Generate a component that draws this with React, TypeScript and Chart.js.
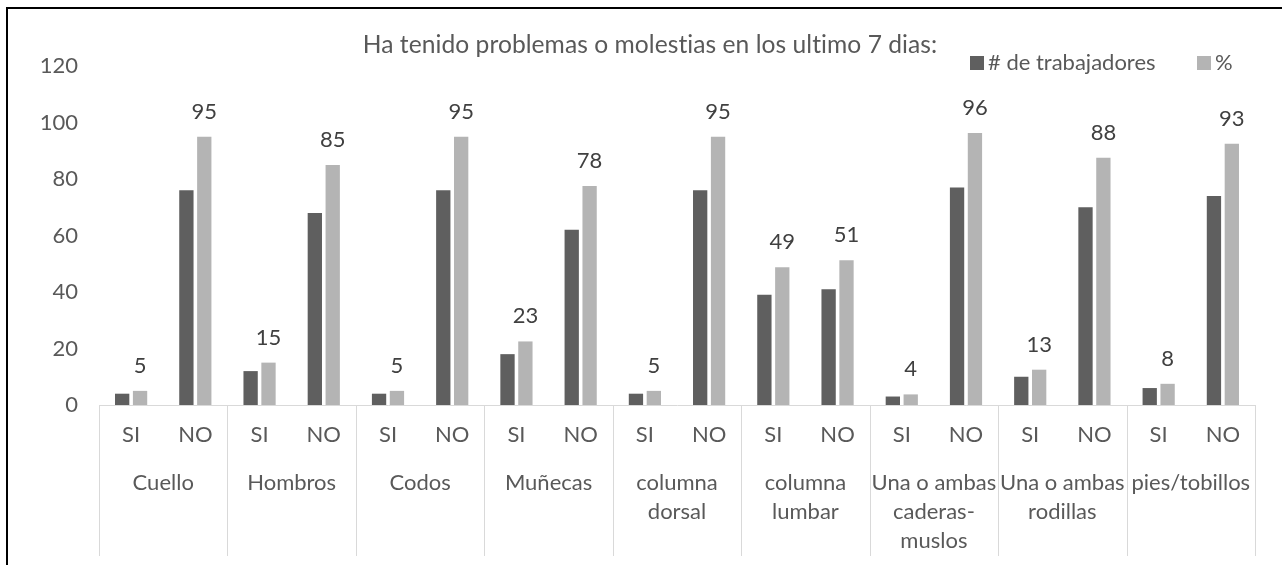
import React, { useEffect, useRef } from "react";
import { Chart, registerables } from "chart.js";

Chart.register(...registerables);

// ---- data ----
const regionLines: string[][] = [
  ["Cuello"],
  ["Hombros"],
  ["Codos"],
  ["Muñecas"],
  ["columna", "dorsal"],
  ["columna", "lumbar"],
  ["Una o ambas", "caderas-", "muslos"],
  ["Una o ambas", "rodillas"],
  ["pies/tobillos"],
];
const answers = ["SI", "NO"];
const categoryLabels: string[] = regionLines.flatMap(() => answers);

const workers = [4, 76, 12, 68, 4, 76, 18, 62, 4, 76, 39, 41, 3, 77, 10, 70, 6, 74];
const percent = [5, 95, 15, 85, 5, 95, 22.5, 77.5, 5, 95, 48.75, 51.25, 3.75, 96.25, 12.5, 87.5, 7.5, 92.5];

const yMin = 0;
const yMax = 120;
const yStep = 20;

const titleText = "Ha tenido problemas o molestias en los ultimo 7 dias:";
const seriesNames = ["# de trabajadores", "%"];
const seriesColors = ["#5f5f5f", "#b4b4b4"];

const FONT = "Lato";
const TEXT = "#595959";

const overlayPlugin = {
  id: "overlay",
  afterDraw(chart: any) {
    const ctx: any = chart.ctx;
    const x = chart.scales.x;
    const area = chart.chartArea;
    const half = (x.getPixelForValue(1) - x.getPixelForValue(0)) / 2;
    ctx.save();

    // group separators
    ctx.strokeStyle = "#d9d9d9";
    ctx.lineWidth = 1;
    const n = regionLines.length;
    for (let k = 0; k <= n; k++) {
      const px = k < n ? x.getPixelForValue(2 * k) - half : x.getPixelForValue(2 * k - 1) + half;
      const xx = Math.round(px) + 0.5;
      ctx.beginPath();
      ctx.moveTo(xx, area.bottom);
      ctx.lineTo(xx, area.bottom + 151);
      ctx.stroke();
    }

    // group labels
    ctx.fillStyle = TEXT;
    ctx.font = `22px ${FONT}`;
    ctx.textAlign = "center";
    ctx.textBaseline = "middle";
    regionLines.forEach((lines, k) => {
      const cx = (x.getPixelForValue(2 * k) + x.getPixelForValue(2 * k + 1)) / 2;
      lines.forEach((t, j) => ctx.fillText(t, cx, area.bottom + 78 + j * 29));
    });

    // data labels for % series
    const meta = chart.getDatasetMeta(1);
    ctx.fillStyle = "#404040";
    ctx.textBaseline = "alphabetic";
    meta.data.forEach((bar: any, i: number) => {
      ctx.fillText(String(Math.round(percent[i])), bar.x, bar.y - 18);
    });

    // title
    ctx.fillStyle = TEXT;
    ctx.font = `24.6px ${FONT}`;
    ctx.textAlign = "center";
    if ("letterSpacing" in ctx) ctx.letterSpacing = "0.05px";
    ctx.fillText(titleText, 650, 53);
    if ("letterSpacing" in ctx) ctx.letterSpacing = "0px";

    // legend
    ctx.font = `22px ${FONT}`;
    ctx.textAlign = "left";
    ctx.textBaseline = "middle";
    const legendX = [970, 1197];
    seriesNames.forEach((name, i) => {
      ctx.fillStyle = seriesColors[i];
      ctx.fillRect(legendX[i], 56, 14, 14);
      ctx.fillStyle = TEXT;
      ctx.fillText(name, legendX[i] + 18, 63);
    });

    ctx.restore();
  },
};

export default function App() {
  const ref = useRef<HTMLCanvasElement | null>(null);

  useEffect(() => {
    if (!ref.current) return;
    const chart = new Chart(ref.current, {
      type: "bar",
      data: {
        labels: categoryLabels,
        datasets: [
          {
            label: seriesNames[0],
            data: workers,
            backgroundColor: seriesColors[0],
            barPercentage: 0.8,
            categoryPercentage: 0.557,
          },
          {
            label: seriesNames[1],
            data: percent,
            backgroundColor: seriesColors[1],
            barPercentage: 0.8,
            categoryPercentage: 0.557,
          },
        ],
      },
      options: {
        responsive: false,
        animation: false,
        devicePixelRatio: 1,
        layout: { padding: { top: 66, right: 27, bottom: 0, left: 0 } },
        plugins: {
          legend: { display: false },
          title: { display: false },
          tooltip: { enabled: false },
        },
        scales: {
          x: {
            grid: { display: false, drawTicks: false },
            border: { display: true, color: "#d9d9d9", width: 1 },
            ticks: {
              color: TEXT,
              font: { family: FONT, size: 22 },
              padding: 17,
              maxRotation: 0,
              autoSkip: false,
            },
            afterFit: (s: any) => {
              s.height = 160;
            },
          },
          y: {
            min: yMin,
            max: yMax,
            grid: { display: false, drawTicks: false },
            border: { display: false },
            ticks: {
              stepSize: yStep,
              color: TEXT,
              font: { family: FONT, size: 22 },
              padding: 21,
            },
            afterFit: (s: any) => {
              s.width = 99;
            },
          },
        },
      },
      plugins: [overlayPlugin],
    });
    return () => chart.destroy();
  }, []);

  return (
    <div style={{ position: "fixed", inset: 0, overflow: "hidden", background: "#fff" }}>
      <div
        style={{
          position: "absolute",
          left: 6,
          top: 7,
          width: 1400,
          height: 700,
          borderLeft: "2px solid #000",
          borderTop: "2px solid #000",
        }}
      />
      <canvas
        ref={ref}
        width={1282}
        height={565}
        style={{ position: "absolute", left: 0, top: 0, display: "block" }}
      />
    </div>
  );
}
